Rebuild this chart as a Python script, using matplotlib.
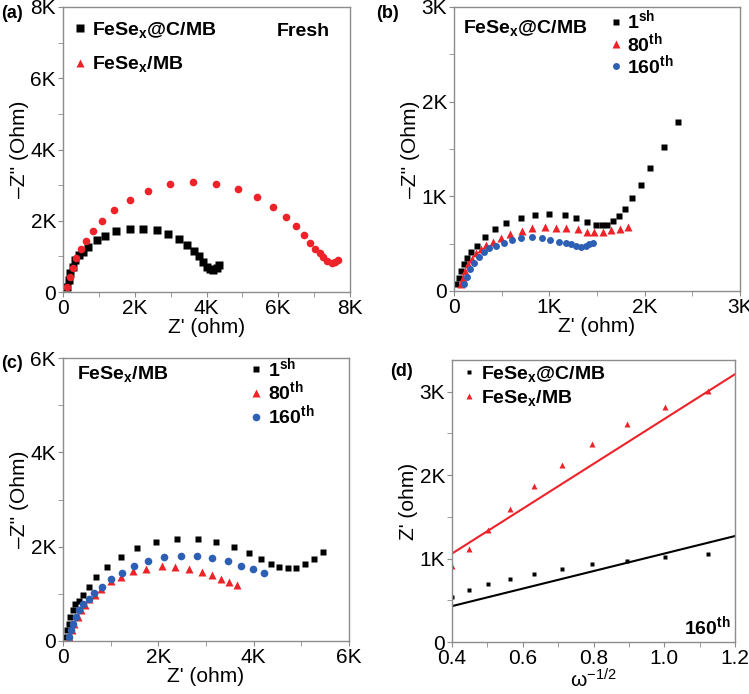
import matplotlib
matplotlib.use("Agg")
import matplotlib.pyplot as plt
from matplotlib.ticker import FuncFormatter, MultipleLocator

plt.rcParams['font.family'] = ['Liberation Sans', 'DejaVu Sans']
plt.rcParams['mathtext.fontset'] = 'custom'
plt.rcParams['mathtext.rm'] = 'Liberation Sans'
plt.rcParams['mathtext.bf'] = 'Liberation Sans:bold'
plt.rcParams['mathtext.it'] = 'Liberation Sans:italic'

# ---- panel (a): fresh cells, Z' and -Z'' in K ohm ----
a_cmb_x = [0.11, 0.16, 0.20, 0.27, 0.34, 0.44, 0.55, 0.71, 0.94, 1.18, 1.49, 1.86, 2.23,
           2.62, 2.94, 3.22, 3.45, 3.64, 3.78, 3.90, 4.01, 4.10, 4.19, 4.29, 4.34]
a_cmb_y = [0.15, 0.34, 0.52, 0.71, 0.90, 1.04, 1.13, 1.26, 1.46, 1.56, 1.70, 1.77, 1.78,
           1.73, 1.63, 1.49, 1.32, 1.16, 1.01, 0.85, 0.71, 0.64, 0.62, 0.67, 0.76]
a_mb_x = [0.11, 0.20, 0.28, 0.36, 0.51, 0.65, 0.84, 1.10, 1.43, 1.86, 2.38, 2.97, 3.62,
          4.26, 4.87, 5.40, 5.85, 6.21, 6.49, 6.72, 6.89, 7.03, 7.15, 7.26, 7.37, 7.49,
          7.58, 7.66]
a_mb_y = [0.15, 0.43, 0.67, 0.95, 1.20, 1.43, 1.70, 1.99, 2.30, 2.59, 2.84, 3.02, 3.09,
          3.04, 2.89, 2.67, 2.40, 2.10, 1.84, 1.59, 1.38, 1.22, 1.09, 0.97, 0.88, 0.81,
          0.84, 0.90]

# ---- panel (b): FeSex@C/MB after cycling ----
b_1_x = [0.02, 0.05, 0.07, 0.10, 0.14, 0.18, 0.24, 0.32, 0.43, 0.55, 0.70, 0.85, 1.00,
         1.16, 1.28, 1.39, 1.49, 1.55, 1.61, 1.67, 1.73, 1.79, 1.87, 1.96, 2.06, 2.20, 2.35]
b_1_y = [0.07, 0.14, 0.21, 0.28, 0.35, 0.41, 0.48, 0.57, 0.65, 0.72, 0.77, 0.80, 0.81,
         0.80, 0.77, 0.73, 0.70, 0.70, 0.70, 0.74, 0.79, 0.87, 0.98, 1.12, 1.30, 1.52, 1.78]
b_80_x = [0.07, 0.09, 0.12, 0.15, 0.19, 0.23, 0.28, 0.34, 0.41, 0.49, 0.59, 0.71, 0.82,
          0.95, 1.07, 1.18, 1.30, 1.39, 1.47, 1.56, 1.65, 1.74, 1.83]
b_80_y = [0.07, 0.14, 0.21, 0.28, 0.34, 0.40, 0.44, 0.49, 0.52, 0.56, 0.60, 0.63, 0.67,
          0.68, 0.67, 0.67, 0.65, 0.62, 0.62, 0.62, 0.64, 0.66, 0.68]
b_160_x = [0.10, 0.14, 0.17, 0.21, 0.26, 0.31, 0.37, 0.44, 0.52, 0.61, 0.70, 0.82, 0.92,
           1.01, 1.10, 1.17, 1.23, 1.28, 1.33, 1.38, 1.42, 1.46]
b_160_y = [0.07, 0.15, 0.23, 0.30, 0.36, 0.41, 0.45, 0.48, 0.51, 0.54, 0.56, 0.57, 0.56,
           0.54, 0.52, 0.51, 0.50, 0.48, 0.47, 0.48, 0.50, 0.51]

# ---- panel (c): FeSex/MB after cycling ----
c_1_x = [0.05, 0.08, 0.12, 0.15, 0.20, 0.26, 0.33, 0.41, 0.54, 0.70, 0.92, 1.21, 1.56,
         1.95, 2.39, 2.83, 3.22, 3.59, 3.91, 4.15, 4.37, 4.54, 4.72, 4.89, 5.08, 5.26, 5.45]
c_1_y = [0.08, 0.23, 0.37, 0.51, 0.65, 0.79, 0.85, 0.97, 1.15, 1.35, 1.56, 1.78, 1.97,
         2.10, 2.17, 2.17, 2.10, 2.00, 1.86, 1.74, 1.64, 1.56, 1.54, 1.55, 1.64, 1.74, 1.89]
c_80_x = [0.13, 0.19, 0.24, 0.31, 0.38, 0.47, 0.55, 0.68, 0.80, 1.00, 1.21, 1.47, 1.75,
          2.07, 2.34, 2.64, 2.91, 3.13, 3.31, 3.49, 3.64]
c_80_y = [0.08, 0.23, 0.37, 0.51, 0.65, 0.76, 0.88, 0.98, 1.11, 1.27, 1.36, 1.48, 1.53,
          1.58, 1.57, 1.52, 1.47, 1.40, 1.31, 1.26, 1.19]
c_160_x = [0.12, 0.17, 0.22, 0.27, 0.34, 0.43, 0.54, 0.66, 0.82, 1.00, 1.23, 1.49, 1.79,
           2.11, 2.47, 2.82, 3.13, 3.47, 3.74, 3.98, 4.21]
c_160_y = [0.08, 0.23, 0.37, 0.51, 0.65, 0.79, 0.90, 1.01, 1.15, 1.31, 1.45, 1.59, 1.70,
           1.78, 1.81, 1.81, 1.75, 1.69, 1.60, 1.52, 1.45]

# ---- panel (d): Z' vs w^-1/2 at the 160th cycle ----
d_w = [0.400, 0.447, 0.502, 0.564, 0.633, 0.711, 0.797, 0.894, 1.002, 1.125]
d_cmb = [0.54, 0.62, 0.69, 0.76, 0.82, 0.88, 0.93, 0.97, 1.02, 1.05]
d_mb = [0.91, 1.12, 1.34, 1.60, 1.87, 2.12, 2.37, 2.61, 2.82, 3.01]
fit_w = [0.4, 1.2]
fit_cmb = [0.43, 1.27]
fit_mb = [1.06, 3.21]

BLACK = '#000000'
RED = '#ee2229'
BLUE = '#2d5fb4'
SPINE = '#8c8c8c'
TICK_FS = 15
LEG_FS = 14
PANEL_FS = 13


def kfmt(v, pos):
    if abs(v) < 1e-9:
        return '0'
    return '%gK' % v


def style_axes(ax, xmaj, xmin, ymaj, ymin, kx=True):
    for s in ax.spines.values():
        s.set_color(SPINE)
        s.set_linewidth(1.0)
    ax.tick_params(which='both', direction='out', color=SPINE, labelsize=TICK_FS,
                   top=False, right=False, pad=1.5)
    ax.tick_params(which='major', length=3.5)
    ax.tick_params(which='minor', length=3.5)
    ax.xaxis.set_major_locator(MultipleLocator(xmaj))
    ax.xaxis.set_minor_locator(MultipleLocator(xmin))
    ax.yaxis.set_major_locator(MultipleLocator(ymaj))
    ax.yaxis.set_minor_locator(MultipleLocator(ymin))
    if kx:
        ax.xaxis.set_major_formatter(FuncFormatter(kfmt))
    ax.yaxis.set_major_formatter(FuncFormatter(kfmt))


def add_legend(ax, anchor, fs=LEG_FS, spacing=0.5, handles=None, labels=None):
    if handles is None:
        handles, labels = ax.get_legend_handles_labels()
    return ax.legend(handles, labels, loc='upper left', bbox_to_anchor=anchor,
                     frameon=False, handlelength=0.6, handletextpad=0.3,
                     borderaxespad=0, borderpad=0, labelspacing=spacing,
                     prop={'weight': 'bold', 'size': fs})


fig = plt.figure(figsize=(7.49, 6.94), dpi=100)

# (a)
ax = fig.add_axes([63 / 749, 1 - 292 / 694, 287 / 749, 285 / 694])
ax.plot(a_cmb_x, a_cmb_y, 's', color=BLACK, ms=5.5, mec='none',
        label=r'FeSe$_\mathbf{x}$@C/MB')
ax.plot(a_mb_x, a_mb_y, 'o', color=RED, ms=5.5, mec='none',
        label=r'FeSe$_\mathbf{x}$/MB')
ax.set_xlim(0, 8)
ax.set_ylim(0, 8)
style_axes(ax, 2, 1, 2, 1)
ax.set_xlabel("Z' (ohm)", fontsize=TICK_FS, labelpad=0)
ax.set_ylabel("\u2013Z'' (Ohm)", fontsize=TICK_FS, labelpad=1)
h, l = ax.get_legend_handles_labels()
h[1] = plt.Line2D([], [], ls='none', marker='^', color=RED, ms=5.5, mec='none')
add_legend(ax, (0.04, 0.955), fs=LEG_FS, spacing=0.75, handles=h, labels=l)
ax.text(0.93, 0.915, 'Fresh', transform=ax.transAxes, ha='right', va='center',
        fontsize=LEG_FS, fontweight='bold')
fig.text(1 / 749, 1 - 13 / 694, '(a)', fontsize=PANEL_FS, fontweight='bold', va='center')

# (b)
ax = fig.add_axes([454 / 749, 1 - 291 / 694, 286 / 749, 284 / 694])
ax.plot(b_1_x, b_1_y, 's', color=BLACK, ms=5, mec='none', label=r'1$^\mathbf{sh}$')
ax.plot(b_80_x, b_80_y, '^', color=RED, ms=5.5, mec='none', label=r'80$^\mathbf{th}$')
ax.plot(b_160_x, b_160_y, 'o', color=BLUE, ms=5, mec='none', label=r'160$^\mathbf{th}$')
ax.set_xlim(0, 3)
ax.set_ylim(0, 3)
style_axes(ax, 1, 0.5, 1, 0.5)
ax.set_xlabel("Z' (ohm)", fontsize=TICK_FS, labelpad=0)
ax.set_ylabel("\u2013Z'' (Ohm)", fontsize=TICK_FS, labelpad=1)
add_legend(ax, (0.545, 0.995), fs=LEG_FS, spacing=-0.08)
ax.text(0.03, 0.925, r'FeSe$_\mathbf{x}$@C/MB', transform=ax.transAxes, ha='left',
        va='center', fontsize=LEG_FS, fontweight='bold')
fig.text(376 / 749, 1 - 13 / 694, '(b)', fontsize=PANEL_FS, fontweight='bold', va='center')

# (c)
ax = fig.add_axes([63 / 749, 1 - 641 / 694, 286 / 749, 283 / 694])
ax.plot(c_1_x, c_1_y, 's', color=BLACK, ms=5, mec='none', label=r'1$^\mathbf{sh}$')
ax.plot(c_80_x, c_80_y, '^', color=RED, ms=5.5, mec='none', label=r'80$^\mathbf{th}$')
ax.plot(c_160_x, c_160_y, 'o', color=BLUE, ms=5.5, mec='none', label=r'160$^\mathbf{th}$')
ax.set_xlim(0, 6)
ax.set_ylim(0, 6)
style_axes(ax, 2, 1, 2, 1)
ax.set_xlabel("Z' (ohm)", fontsize=TICK_FS, labelpad=0)
ax.set_ylabel("\u2013Z'' (Ohm)", fontsize=TICK_FS, labelpad=1)
add_legend(ax, (0.655, 1.008), fs=LEG_FS, spacing=0.0)
ax.text(0.05, 0.945, r'FeSe$_\mathbf{x}$/MB', transform=ax.transAxes, ha='left',
        va='center', fontsize=LEG_FS, fontweight='bold')
fig.text(1 / 749, 1 - 364 / 694, '(c)', fontsize=PANEL_FS, fontweight='bold', va='center')

# (d)
ax = fig.add_axes([452 / 749, 1 - 642 / 694, 283 / 749, 282 / 694])
ax.plot(d_w, d_cmb, 's', color=BLACK, ms=3.2, mec='none', label=r'FeSe$_\mathbf{x}$@C/MB')
ax.plot(d_w, d_mb, '^', color=RED, ms=4, mec='none', label=r'FeSe$_\mathbf{x}$/MB')
ax.plot(fit_w, fit_cmb, '-', color=BLACK, lw=1.5)
ax.plot(fit_w, fit_mb, '-', color=RED, lw=1.5)
ax.set_xlim(0.4, 1.2)
ax.set_ylim(0, 3.38)
style_axes(ax, 0.2, 0.1, 1, 0.5, kx=False)
ax.xaxis.set_major_formatter(FuncFormatter(lambda v, p: '%.1f' % v))
ax.tick_params(axis='x', labelsize=15)
ax.set_xlabel(r'$\mathregular{\omega^{-1/2}}$', fontsize=TICK_FS, labelpad=0)
ax.set_ylabel("Z' (ohm)", fontsize=TICK_FS, labelpad=1)
add_legend(ax, (0.04, 0.985), fs=LEG_FS, spacing=0.2)
ax.text(0.985, 0.015, r'160$^\mathbf{th}$', transform=ax.transAxes, ha='right',
        va='bottom', fontsize=LEG_FS, fontweight='bold')
fig.text(390 / 749, 1 - 372 / 694, '(d)', fontsize=PANEL_FS, fontweight='bold', va='center')

fig.savefig('out.png', dpi=100)
